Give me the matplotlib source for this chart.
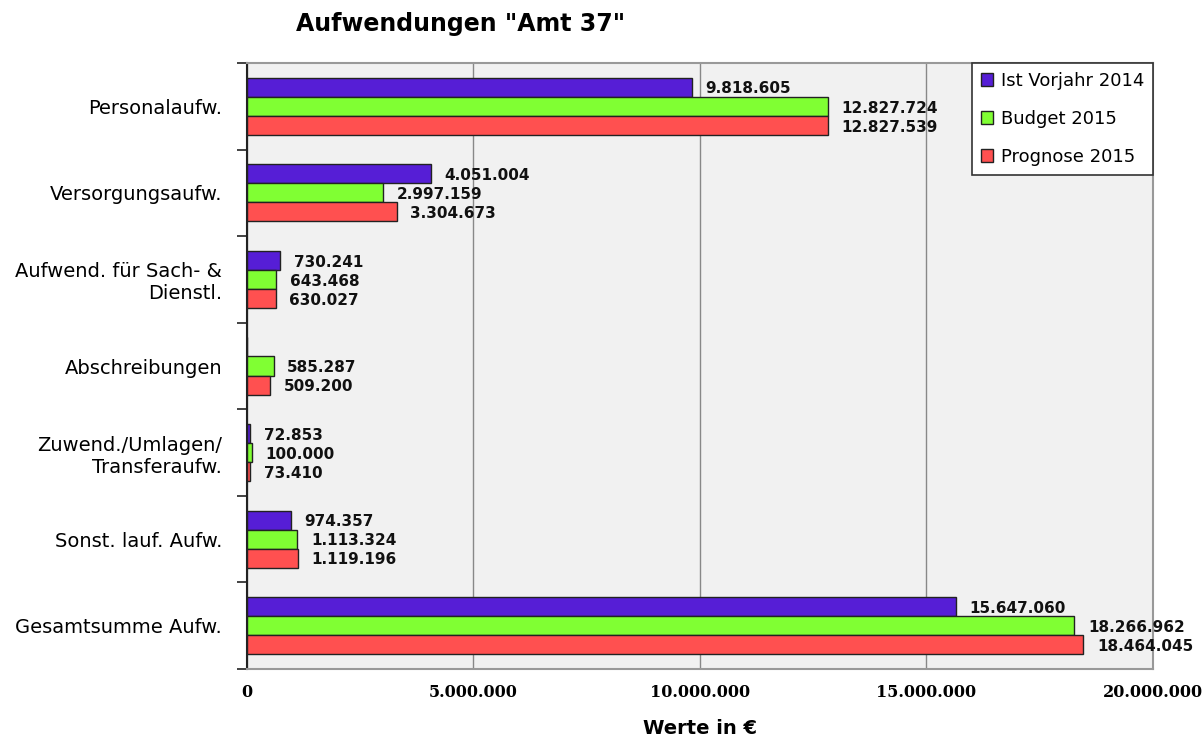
import matplotlib
matplotlib.use("Agg")
import matplotlib.pyplot as plt
import numpy as np

categories = ["Personalaufw.", "Versorgungsaufw.", "Aufwend. für Sach- &\nDienstl.",
              "Abschreibungen", "Zuwend./Umlagen/\nTransferaufw.", "Sonst. lauf. Aufw.",
              "Gesamtsumme Aufw."]
ist_2014 = [9818605, 4051004, 730241, None, 72853, 974357, 15647060]
budget_2015 = [12827724, 2997159, 643468, 585287, 100000, 1113324, 18266962]
prognose_2015 = [12827539, 3304673, 630027, 509200, 73410, 1119196, 18464045]
series_names = ["Ist Vorjahr 2014", "Budget 2015", "Prognose 2015"]
colors = ["#561ed6", "#80ff33", "#ff5050"]
x_ticks = [0, 5000000, 10000000, 15000000, 20000000]

def fmt(v):
    return f"{int(v):,}".replace(",", ".")

fig = plt.figure(figsize=(12.02, 7.44), dpi=100)
ax = fig.add_axes([0.2055, 0.1008, 0.7537, 0.8145])
ax.set_facecolor("#f1f1f1")

n = len(categories)
ypos = np.arange(n)
bh = 0.22
series = [ist_2014, budget_2015, prognose_2015]
for i, (vals, col, name) in enumerate(zip(series, colors, series_names)):
    offs = (i - 1) * bh
    v = [0 if x is None else x for x in vals]
    ax.barh(ypos + offs, v, height=bh, color=col, edgecolor="#222222", linewidth=1.0,
            label=name, zorder=3)
    for y, val in zip(ypos, vals):
        if val is None:
            continue
        ax.text(val + 300000, y + offs + 0.02, fmt(val), va="center", ha="left",
                fontsize=11, fontweight="bold", color="#111111", zorder=4)

ax.set_ylim(n - 0.5, -0.5)
ax.set_xlim(0, 20000000)
ax.set_yticks(ypos)
ax.set_yticklabels(categories, fontsize=14)
ax.tick_params(axis="y", length=0, pad=18)
ax.set_yticks(np.arange(-0.5, n, 1.0), minor=True)
ax.tick_params(axis="y", which="minor", length=7, width=1.2, color="#222222")
ax.set_xticks(x_ticks)
ax.set_xticklabels([fmt(t) for t in x_ticks], fontsize=11.5, fontweight="bold",
                   family="DejaVu Serif")
ax.tick_params(axis="x", length=0, pad=11)
ax.grid(axis="x", color="#888888", linewidth=1.0, zorder=0)
ax.set_axisbelow(True)
for s in ["top", "right", "bottom"]:
    ax.spines[s].set_color("#999999")
    ax.spines[s].set_linewidth(1.5)
ax.spines["left"].set_color("#222222")
ax.spines["left"].set_linewidth(1.5)

ax.set_xlabel("Werte in €", fontsize=14, fontweight="bold", labelpad=13)
fig.text(0.383, 0.968, "Aufwendungen \"Amt 37\"", fontsize=17, fontweight="bold",
         ha="center", va="center")

leg = ax.legend(loc="upper right", bbox_to_anchor=(1.0, 1.0), fontsize=13,
                frameon=True, fancybox=False, edgecolor="#333333", framealpha=1,
                handlelength=0.7, handleheight=0.7, handletextpad=0.4,
                labelspacing=1.1, borderpad=0.5, borderaxespad=0)
leg.get_frame().set_linewidth(1.2)

fig.savefig("out.png", dpi=100, facecolor="white")
